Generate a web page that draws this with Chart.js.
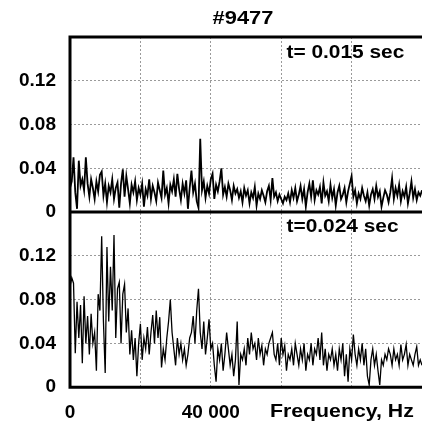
<!DOCTYPE html>
<html>
<head>
<meta charset="utf-8">
<script src="https://cdn.jsdelivr.net/npm/chart.js@4.4.1/dist/chart.umd.min.js"></script>
<style>
  html, body { margin: 0; padding: 0; overflow: hidden; background: #fff; }
  #wrap { width: 422px; height: 426px; }
</style>
</head>
<body>
<div id="wrap"><canvas id="spectrum"></canvas></div>
<script>
/* shot #9477, two spectra, 500 Hz step */
const shotTitle = '#9477';
const freqStep = 500;
const labelTop = 't= 0.015 sec';
const labelBottom = 't=0.024 sec';
const xTickLabels = { 0: '0', 40000: '40 000' };

const amp_015 = [
  0.022, 0.028, 0.050, 0.018, 0.003, 0.047, 0.024, 0.030, 0.020, 0.050,
  0.026, 0.014, 0.030, 0.022, 0.012, 0.028, 0.019, 0.034, 0.037, 0.015,
  0.026, 0.009, 0.024, 0.018, 0.030, 0.012, 0.022, 0.027, 0.004, 0.026,
  0.039, 0.014, 0.033, 0.021, 0.008, 0.025, 0.018, 0.028, 0.011, 0.022,
  0.016, 0.026, 0.005, 0.021, 0.015, 0.030, 0.012, 0.024, 0.018, 0.010,
  0.027, 0.020, 0.013, 0.038, 0.016, 0.022, 0.008, 0.025, 0.019, 0.030,
  0.014, 0.035, 0.021, 0.011, 0.026, 0.017, 0.029, 0.003, 0.022, 0.038,
  0.018, 0.026, 0.010, 0.004, 0.067, 0.020, 0.028, 0.013, 0.024, 0.017,
  0.030, 0.035, 0.012, 0.025, 0.019, 0.028, 0.040, 0.016, 0.023, 0.014,
  0.026, 0.020, 0.011, 0.024, 0.017, 0.021, 0.013, 0.019, 0.009, 0.022,
  0.015, 0.020, 0.008, 0.018, 0.013, 0.023, 0.006, 0.017, 0.012, 0.020,
  0.015, 0.009, 0.019, 0.024, 0.011, 0.031, 0.014, 0.018, 0.010, 0.016,
  0.012, 0.008, 0.014, 0.011, 0.017, 0.009, 0.020, 0.013, 0.022, 0.010,
  0.016, 0.024, 0.012, 0.021, 0.005, 0.018, 0.026, 0.014, 0.029, 0.011,
  0.020, 0.016, 0.023, 0.008, 0.027, 0.015, 0.019, 0.010, 0.025, 0.013,
  0.021, 0.006, 0.018, 0.024, 0.012, 0.016, 0.022, 0.009, 0.019, 0.026,
  0.033, 0.014, 0.020, 0.008, 0.017, 0.012, 0.022, 0.015, 0.010, 0.018,
  0.006, 0.016, 0.021, 0.012, 0.024, 0.014, 0.019, 0.005, 0.013, 0.020,
  0.016, 0.009, 0.018, 0.031, 0.012, 0.022, 0.015, 0.025, 0.010, 0.019,
  0.014, 0.023, 0.008, 0.017, 0.028, 0.013, 0.021, 0.011, 0.018, 0.015,
  0.020
];

const amp_024 = [
  0.092, 0.100, 0.095, 0.031, 0.078, 0.045, 0.075, 0.022, 0.083, 0.040,
  0.065, 0.030, 0.067, 0.040, 0.050, 0.015, 0.085, 0.070, 0.138, 0.060,
  0.013, 0.128, 0.060, 0.110, 0.070, 0.139, 0.045, 0.090, 0.096, 0.040,
  0.085, 0.094, 0.050, 0.072, 0.030, 0.052, 0.025, 0.045, 0.010, 0.040,
  0.058, 0.025, 0.045, 0.035, 0.055, 0.030, 0.050, 0.066, 0.040, 0.070,
  0.045, 0.064, 0.018, 0.035, 0.025, 0.045, 0.060, 0.080, 0.050, 0.035,
  0.020, 0.045, 0.030, 0.040, 0.025, 0.035, 0.020, 0.030, 0.045, 0.050,
  0.065, 0.040, 0.070, 0.090, 0.050, 0.035, 0.060, 0.030, 0.045, 0.062,
  0.035, 0.040, 0.020, 0.005, 0.035, 0.025, 0.040, 0.015, 0.030, 0.050,
  0.035, 0.020, 0.030, 0.010, 0.025, 0.060, 0.002, 0.030, 0.025, 0.035,
  0.020, 0.045, 0.030, 0.050, 0.035, 0.040, 0.025, 0.045, 0.030, 0.038,
  0.020, 0.035, 0.030, 0.040, 0.045, 0.050, 0.030, 0.025, 0.040, 0.020,
  0.045, 0.030, 0.038, 0.015, 0.030, 0.025, 0.035, 0.020, 0.040, 0.030,
  0.020, 0.035, 0.025, 0.040, 0.015, 0.030, 0.025, 0.040, 0.020, 0.035,
  0.030, 0.045, 0.025, 0.050, 0.020, 0.035, 0.015, 0.030, 0.025, 0.035,
  0.020, 0.030, 0.015, 0.035, 0.025, 0.040, 0.010, 0.030, 0.005, 0.035,
  0.025, 0.048, 0.030, 0.020, 0.035, 0.025, 0.040, 0.020, 0.035, 0.010,
  0.002, 0.025, 0.035, 0.020, 0.030, 0.015, 0.002, 0.025, 0.020, 0.030,
  0.025, 0.035, 0.030, 0.020, 0.035, 0.025, 0.030, 0.020, 0.039, 0.025,
  0.030, 0.039, 0.020, 0.030, 0.025, 0.020, 0.030, 0.037, 0.020, 0.025,
  0.020
];

const toPoints = arr => arr.map((v, i) => ({ x: i * freqStep, y: v }));

const fontFam = '"Liberation Sans", Arial, sans-serif';

// the original lettering is a bit wider than Arial, so stretch it sideways
function wideText(c, txt, x, y, align, sx) {
    c.save();
    c.translate(x, y);
    c.scale(sx, 1);
    c.textAlign = align;
    c.fillText(txt, 0, 0);
    c.restore();
}

const frameAndText = {
    id: 'frameAndText',
    afterDraw(chart) {
        const c = chart.ctx;
        const a = chart.chartArea;
        const x = chart.scales.x;
        const yTop = chart.scales.yTop;
        const yBot = chart.scales.yBot;
        c.save();
        c.strokeStyle = '#000';
        c.lineWidth = 3;
        c.beginPath();
        c.moveTo(a.left, a.top); c.lineTo(a.right, a.top);
        c.moveTo(a.left, yTop.bottom); c.lineTo(a.right, yTop.bottom);
        c.moveTo(a.left, a.bottom); c.lineTo(a.right, a.bottom);
        c.moveTo(a.left, a.top - 1.5); c.lineTo(a.left, a.bottom + 1.5);
        c.stroke();

        c.fillStyle = '#000';
        c.textBaseline = 'middle';
        c.font = 'bold 19px ' + fontFam;
        wideText(c, shotTitle, (a.left + a.right) / 2 - 3, 19, 'center', 1.15);

        c.font = 'bold 18px ' + fontFam;
        wideText(c, labelTop, x.getPixelForValue(61500), yTop.getPixelForValue(0.145), 'left', 1.16);
        wideText(c, labelBottom, x.getPixelForValue(61500), yBot.getPixelForValue(0.146), 'left', 1.16);
        c.font = 'bold 19px ' + fontFam;
        wideText(c, 'Frequency, Hz', 270, a.bottom + 25, 'left', 1.12);
        c.restore();
    }
};

const yAxis = {
    type: 'linear',
    position: 'left',
    stack: 'panels',
    stackWeight: 1,
    min: 0,
    max: 0.16,
    grid: { color: '#9a9a9a', lineWidth: 1, drawTicks: false },
    border: { display: false, dash: [2, 2] },
    ticks: {
        stepSize: 0.04,
        padding: 14,
        autoSkip: false,
        color: '#000',
        font: { family: fontFam, size: 19, weight: 'bold' },
        callback: v => (v > 0.159 ? '' : (v === 0 ? '0' : v.toFixed(2)))
    },
    afterFit(scale) { scale.width = 70; }
};

const ctx = document.getElementById('spectrum').getContext('2d');
const spectrumChart = new Chart(ctx, {
    type: 'line',
    data: {
        datasets: [{
            label: labelTop,
            data: toPoints(amp_015),
            yAxisID: 'yTop',
            borderColor: '#000',
            borderWidth: 1.8,
            pointRadius: 0,
            tension: 0
        }, {
            label: labelBottom,
            data: toPoints(amp_024),
            yAxisID: 'yBot',
            borderColor: '#000',
            borderWidth: 1.3,
            pointRadius: 0,
            tension: 0
        }]
    },
    options: {
        responsive: true,
        maintainAspectRatio: false,
        animation: false,
        layout: { padding: { top: 37, right: 0, bottom: 2, left: 0 } },
        plugins: {
            legend: { display: false },
            tooltip: { enabled: false },
            title: { display: false }
        },
        scales: {
            x: {
                type: 'linear',
                min: 0,
                max: 100000,
                // invisible tick marks give the label gap without side padding
                grid: { color: '#9a9a9a', lineWidth: 1, drawTicks: true, tickLength: 14, tickColor: 'rgba(0,0,0,0)' },
                border: { display: false, dash: [2, 2] },
                ticks: {
                    stepSize: 20000,
                    padding: 0,
                    maxRotation: 0,
                    autoSkip: false,
                    color: '#000',
                    font: { family: fontFam, size: 19, weight: 'bold' },
                    callback: v => xTickLabels[v] || ''
                }
            },
            // listed bottom first: later axes in a stack are placed above
            yBot: Object.assign({}, yAxis),
            yTop: Object.assign({}, yAxis)
        }
    },
    plugins: [frameAndText]
});
</script>
</body>
</html>
